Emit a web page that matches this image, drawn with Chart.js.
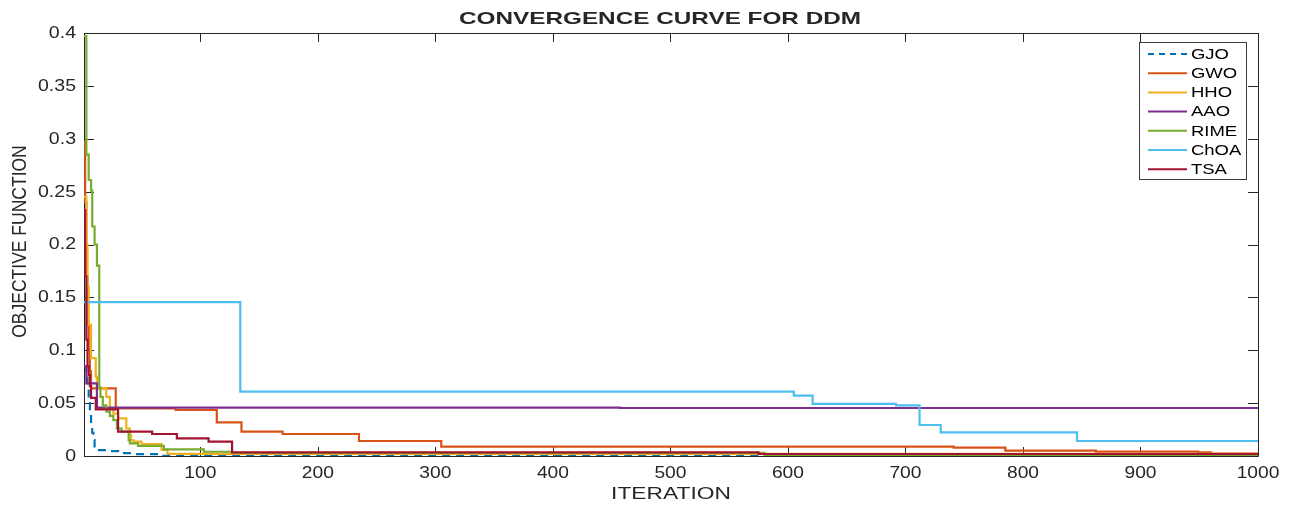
<!DOCTYPE html>
<html>
<head>
<meta charset="utf-8">
<title>Convergence curve for DDM</title>
<script src="https://cdn.jsdelivr.net/npm/chart.js@4/dist/chart.umd.min.js"></script>
<style>
  html, body { margin: 0; padding: 0; background: #fff; }
  #wrap { width: 1296px; height: 508px; }
</style>
</head>
<body>
<div id="wrap"><canvas id="conv" width="1296" height="508"></canvas></div>
<script>
"use strict";

// Best-so-far objective per algorithm, as [iteration, value] at each change
const GJO  = [[1, 0.085], [3, 0.078], [4, 0.064], [5, 0.05], [6, 0.04], [7, 0.03], [8, 0.022], [9, 0.015], [10, 0.009],
              [11, 0.0055], [20, 0.0047], [30, 0.0027], [45, 0.0018], [66, 0.0001], [1000, 0.0001]]
const GWO  = [[1, 0.297], [2, 0.24], [3, 0.17], [4, 0.125], [5, 0.1], [6, 0.08], [7, 0.064], [28, 0.045], [79, 0.0435],
              [114, 0.0318], [135, 0.023], [170, 0.0208], [235, 0.0142], [305, 0.0088], [741, 0.0079], [785, 0.005],
              [862, 0.0042], [949, 0.0035], [960, 0.0022], [1000, 0.0022]]
const HHO  = [[1, 0.245], [3, 0.2], [4, 0.16], [5, 0.124], [7, 0.0925], [11, 0.075], [12, 0.064], [20, 0.056], [23, 0.045],
              [26, 0.04], [30, 0.0356], [37, 0.026], [40, 0.02], [41, 0.015], [43, 0.0135], [50, 0.0113], [67, 0.0057],
              [72, 0.002], [1000, 0.0015]]
const AAO  = [[1, 0.085], [3, 0.0687], [12, 0.0457], [457, 0.0454], [1000, 0.0454]]
const RIME = [[1, 0.397], [3, 0.285], [5, 0.261], [7, 0.251], [8, 0.217], [10, 0.2], [12, 0.18], [14, 0.065], [15, 0.056],
              [17, 0.048], [20, 0.042], [23, 0.038], [26, 0.034], [29, 0.026], [33, 0.023], [39, 0.015], [40, 0.012],
              [47, 0.0095], [69, 0.0063], [103, 0.004], [127, 0.003], [580, 0.001], [1000, 0.001]]
const ChOA = [[1, 0.1455], [134, 0.0608], [605, 0.057], [621, 0.0492], [692, 0.0479], [712, 0.0293], [730, 0.0224],
              [846, 0.0142], [1000, 0.0142]]
const TSA  = [[1, 0.2326], [2, 0.17], [3, 0.11], [4, 0.085], [5, 0.0766], [6, 0.066], [7, 0.055], [11, 0.0441],
              [30, 0.023], [59, 0.0208], [80, 0.0167], [107, 0.0136], [127, 0.0035], [575, 0.0019], [1000, 0.0019]]

const seriesNames = ['GJO', 'GWO', 'HHO', 'AAO', 'RIME', 'ChOA', 'TSA']
const seriesData = [GJO, GWO, HHO, AAO, RIME, ChOA, TSA]

const xTickVals = [100, 200, 300, 400, 500, 600, 700, 800, 900, 1000]
const yTickVals = [0, 0.05, 0.1, 0.15, 0.2, 0.25, 0.3, 0.35, 0.4]

const titleText = 'CONVERGENCE CURVE FOR DDM'
const xTitle = 'ITERATION'
const yTitle = 'OBJECTIVE FUNCTION'

// MATLAB default line order
const lineColors = ['#0072BD', '#D95319', '#EDB120', '#7E2F8E', '#77AC30', '#4DBEEE', '#A2142F']
const axisColor = '#262626'
const FONT = '"Liberation Sans", Arial, Helvetica, sans-serif'

// text drawn a bit wider than the font, like the exported figure
function stretchText(ctx, str, x, y, opts) {
	ctx.save()
	ctx.translate(x, y)
	if (opts.rotate) ctx.rotate(opts.rotate)
	ctx.scale(opts.sx || 1, opts.sy || 1)
	ctx.font = opts.font
	ctx.fillStyle = opts.color || axisColor
	ctx.textAlign = opts.align || 'center'
	ctx.textBaseline = opts.baseline || 'alphabetic'
	ctx.fillText(str, 0, 0)
	ctx.restore()
}

// box, inward ticks, tick labels and titles
const matlabAxes = {
	id: 'matlabAxes',
	beforeDatasetsDraw(chart) {
		const {ctx, chartArea: a, scales: {x, y}} = chart
		ctx.save()
		ctx.strokeStyle = axisColor
		ctx.lineWidth = 1
		ctx.beginPath()
		ctx.rect(a.left + 0.5, a.top + 0.5, a.right - a.left, a.bottom - a.top)
		xTickVals.forEach(v => {
			const px = Math.round(x.getPixelForValue(v)) + 0.5
			ctx.moveTo(px, a.bottom); ctx.lineTo(px, a.bottom - 9)
			ctx.moveTo(px, a.top); ctx.lineTo(px, a.top + 9)
		})
		yTickVals.forEach(v => {
			const py = Math.round(y.getPixelForValue(v)) + 0.5
			ctx.moveTo(a.left, py); ctx.lineTo(a.left + 10, py)
			ctx.moveTo(a.right, py); ctx.lineTo(a.right - 10, py)
		})
		ctx.stroke()
		ctx.restore()

		xTickVals.forEach(v => {
			stretchText(ctx, String(v), x.getPixelForValue(v), a.bottom + 21.5,
				{font: '16px ' + FONT, sx: 1.2})
		})
		yTickVals.forEach(v => {
			stretchText(ctx, String(v), a.left - 8, y.getPixelForValue(v) + 0.5,
				{font: '16px ' + FONT, sx: 1.22, align: 'right', baseline: 'middle'})
		})

		stretchText(ctx, titleText, 660, 24, {font: 'bold 17px ' + FONT, sx: 1.43})
		stretchText(ctx, xTitle, (a.left + a.right) / 2, 499, {font: '17px ' + FONT, sx: 1.34})
		stretchText(ctx, yTitle, 20, (a.top + a.bottom) / 2 - 3,
			{font: '17.5px ' + FONT, rotate: -Math.PI / 2, sy: 1.2, baseline: 'middle'})
	},
	afterDraw(chart) {
		// legend box in the upper right corner of the axes
		const {ctx} = chart
		const left = 1139.5, top = 42.5, w = 107, h = 137
		ctx.save()
		ctx.fillStyle = '#fff'
		ctx.fillRect(left, top, w, h)
		ctx.strokeStyle = '#3c3c3c'
		ctx.lineWidth = 1
		ctx.strokeRect(left, top, w, h)
		chart.data.datasets.forEach((ds, i) => {
			const ly = 54 + i * 19.2
			ctx.beginPath()
			ctx.strokeStyle = ds.borderColor
			ctx.lineWidth = 2
			ctx.setLineDash(ds.borderDash.length ? [6, 5] : [])
			ctx.moveTo(1148, ly)
			ctx.lineTo(1187, ly)
			ctx.stroke()
			ctx.setLineDash([])
			stretchText(ctx, ds.label, 1191, ly + 1, {font: '14px ' + FONT, sx: 1.32, align: 'left', baseline: 'middle', color: '#000'})
		})
		ctx.restore()
	}
}

// stepped: 'before' holds each value until the next change, then drops
const datasets = seriesNames.map((name, i) => ({
	label: name,
	data: seriesData[i].map(([it, v]) => ({x: it, y: v})),
	borderColor: lineColors[i],
	backgroundColor: lineColors[i],
	borderWidth: 2.2,
	borderDash: name === 'GJO' ? [8, 6] : [],
	pointRadius: 0,
	stepped: 'before',
	fill: false,
	order: seriesNames.length - i
}))

new Chart(document.getElementById('conv'), {
	type: 'line',
	data: {datasets},
	options: {
		responsive: false,
		animation: false,
		devicePixelRatio: 1,
		layout: {padding: {top: 33, right: 38, left: 0, bottom: 0}},
		plugins: {
			legend: {display: false},
			title: {display: false},
			tooltip: {enabled: false}
		},
		scales: {
			x: {
				type: 'linear',
				min: 1,
				max: 1000,
				grid: {display: false, drawTicks: false},
				border: {display: false},
				ticks: {display: false},
				afterFit: s => { s.height = 52 }
			},
			y: {
				type: 'linear',
				min: 0,
				max: 0.4,
				grid: {display: false, drawTicks: false},
				border: {display: false},
				ticks: {display: false},
				afterFit: s => { s.width = 84 }
			}
		}
	},
	plugins: [matlabAxes]
})
</script>
</body>
</html>
